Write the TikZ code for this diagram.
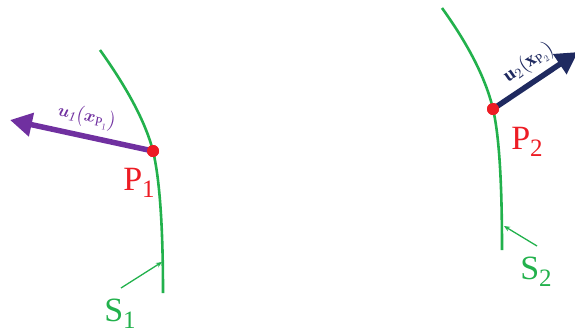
\documentclass[tikz,border=0pt]{standalone}
\usepackage{fontspec}
\setmainfont{Liberation Serif}
\usepackage{amsmath,bm}
\usetikzlibrary{arrows.meta}
\definecolor{sgreen}{RGB}{34,177,76}
\definecolor{pred}{RGB}{237,28,36}
\definecolor{upurple}{RGB}{112,48,160}
\definecolor{unavy}{RGB}{31,42,96}
\tikzset{
  surf/.style={draw=sgreen, line width=2.6pt},
  dot/.style={circle, fill=pred, inner sep=0pt, minimum size=12pt},
  plabel/.style={text=pred, font=\fontsize{34}{34}\selectfont, inner sep=0pt},
  slabel/.style={text=sgreen, font=\fontsize{34}{34}\selectfont, inner sep=0pt},
  vec/.style={line width=5.5pt, -{Triangle[length=22pt,width=23pt]}},
  pointer/.style={draw=sgreen, line width=1.3pt, -{Stealth[length=6pt,width=5pt]}},
  ulabel/.style={font=\fontsize{19}{19}\selectfont, inner sep=0pt}
}
\newcommand{\mysub}[1]{\raisebox{-7pt}{\fontsize{25}{25}\selectfont #1}}
\begin{document}
\begin{tikzpicture}[x=1pt,y=-1pt]
\useasboundingbox (0,0) rectangle (575,333);
% surfaces
\coordinate (s1a) at (100,50);
\coordinate (s1b) at (163,293);
\coordinate (s2a) at (442,8);
\coordinate (s2b) at (502,250);
\node[dot] (p1) at (153,151) {};
\node[dot] (p2) at (493,109) {};
\draw[surf] (s1a) .. controls (125,85) and (145,120) .. (p1.center)
  .. controls (160,180) and (163,230) .. (s1b);
\draw[surf] (s2a) .. controls (465,40) and (485,75) .. (p2.center)
  .. controls (499,135) and (502,180) .. (s2b);
% vectors
\coordinate (u1tip) at (10,120);
\coordinate (u2tip) at (578,52);
\draw[vec, upurple] (p1.center) -- (u1tip);
\draw[vec, unavy] (p2.center) -- (u2tip);
\node[dot] at (p1) {};
\node[dot] at (p2) {};
\node[ulabel, text=upurple, rotate=-11.6] (u1lab) at (87,117)
  {$\bm{u}_{\mathit{1}}\big(\bm{x}_{\mathrm{P}_{1}}\big)$};
\node[ulabel, text=unavy, rotate=35] (u2lab) at (529,63)
  {$\mathbf{u}_{2}\big(\mathbf{x}_{\mathrm{P}_{2}}\big)$};
% point labels
\node[plabel] (P1) at (139,183) {P\mysub{1}};
\node[plabel] (P2) at (527,142) {P\mysub{2}};
% surface labels
\node[slabel] (S1) at (120,314) {S\mysub{1}};
\node[slabel] (S2) at (536,272) {S\mysub{2}};
\coordinate (s1hit) at (162,262);
\coordinate (s2hit) at (504,226);
\coordinate (s1from) at (121,288);
\coordinate (s2from) at (537,246);
\draw[pointer] (s1from) -- (s1hit);
\draw[pointer] (s2from) -- (s2hit);
\end{tikzpicture}
\end{document}
